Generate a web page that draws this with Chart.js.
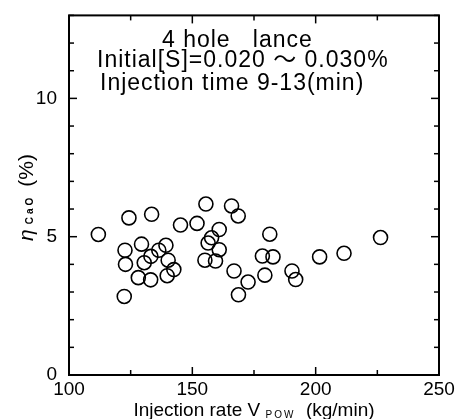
<!DOCTYPE html>
<html>
<head>
<meta charset="utf-8">
<script src="https://cdn.jsdelivr.net/npm/chart.js@4.4.0/dist/chart.umd.min.js"></script>
<style>
  html, body { margin: 0; padding: 0; background: #fff; }
  #wrap { width: 458px; height: 419px; }
</style>
</head>
<body>
<div id="wrap"><canvas id="cadChart" width="458" height="419"></canvas></div>
<script>
// ============================
// DATA
// ============================
// injection rate V_pow (kg/min) and CaO efficiency (%) per heat
const injectionRate = [
  111.9, 124.3, 133.5, 122.7, 122.9, 129.4, 139.3, 136.4, 133.2, 130.5,
  140.2, 142.5, 139.8, 128.1, 133.1, 122.4, 145.2, 151.9, 155.5, 165.9,
  168.6, 160.9, 157.8, 156.4, 160.9, 155.1, 159.4, 181.4, 178.4, 182.7,
  166.9, 179.4, 172.6, 168.7, 190.4, 191.9, 201.6, 211.5, 226.3
];
const etaCaO = [
  5.08, 5.68, 5.81, 4.51, 4.00, 4.73, 4.69, 4.51, 4.29, 4.06,
  4.15, 3.81, 3.59, 3.52, 3.44, 2.84, 5.42, 5.48, 6.18, 6.11,
  5.75, 5.26, 4.96, 4.77, 4.53, 4.15, 4.12, 5.09, 4.30, 4.27,
  3.76, 3.61, 3.36, 2.90, 3.76, 3.45, 4.27, 4.40, 4.97
];
const xTickLabels = [100, 150, 200, 250];
const yTickLabels = [0, 5, 10];
const noteLines = ["4 hole   lance", "Initial[S]=0.020 \u301C 0.030%", "Injection time 9-13(min)"];

const FONT = "'Liberation Sans', Arial, sans-serif";

// ============================
// FRAME, INWARD TICKS, TITLES
// ============================
const frameAndNotes = {
  id: "frameAndNotes",
  afterDraw(chart) {
    const { ctx, chartArea: a, scales: { x, y } } = chart;
    const seg = (x1, y1, x2, y2) => { ctx.beginPath(); ctx.moveTo(x1, y1); ctx.lineTo(x2, y2); ctx.stroke(); };
    ctx.save();
    ctx.strokeStyle = "#000";
    ctx.fillStyle = "#000";

    ctx.lineWidth = 2;
    ctx.strokeRect(a.left, a.top, a.right - a.left, a.bottom - a.top);

    // ticks every 25 kg/min on bottom and top
    ctx.lineWidth = 1.5;
    for (let v = x.min; v <= x.max; v += 25) {
      const px = x.getPixelForValue(v);
      const len = v % 50 === 0 ? 8 : 5;
      seg(px, a.bottom, px, a.bottom - len);
      seg(px, a.top, px, a.top + len);
    }
    // ticks every 1 % on left and right
    for (let v = y.min; v <= y.max; v += 1) {
      const py = y.getPixelForValue(v);
      const len = v % 5 === 0 ? 8 : 5;
      seg(a.left, py, a.left + len, py);
      seg(a.right, py, a.right - len, py);
    }

    // x axis title with subscript
    const big = "19px " + FONT, small = "10px " + FONT;
    const parts = [["Injection rate V ", big, 0], ["POW", small, 2], ["  (kg/min)", big, 0]];
    ctx.textBaseline = "alphabetic";
    ctx.textAlign = "left";
    ctx.letterSpacing = "0px";
    let total = 0;
    parts.forEach(([t, f]) => { ctx.font = f; total += ctx.measureText(t).width + (f === small ? 6 : 0); });
    let cx = (a.left + a.right) / 2 - total / 2;
    parts.forEach(([t, f, dy]) => {
      ctx.font = f;
      if (f === small) ctx.letterSpacing = "2px";
      ctx.fillText(t, cx, 416 + dy);
      cx += ctx.measureText(t).width;
      ctx.letterSpacing = "0px";
    });

    // y axis title, rotated
    ctx.save();
    ctx.translate(33, 241);
    ctx.rotate(-Math.PI / 2);
    ctx.font = "italic 21px " + FONT;
    ctx.fillText("\u03B7", 0, 0);
    let off = ctx.measureText("\u03B7").width + 5;
    ctx.font = "bold 10px " + FONT;
    ctx.letterSpacing = "3px";
    ctx.fillText("CaO", off, 0);
    off += ctx.measureText("CaO").width + 8;
    ctx.letterSpacing = "0px";
    ctx.font = "21px " + FONT;
    ctx.fillText("(%)", off, 0);
    ctx.restore();

    // condition notes
    ctx.font = "23px " + FONT + ", 'Noto Sans CJK JP'";
    ctx.letterSpacing = "1px";
    ctx.fillText(noteLines[0], a.left + 93, a.top + 32);
    ctx.fillText(noteLines[1], a.left + 28, a.top + 52);
    ctx.fillText(noteLines[2], a.left + 31, a.top + 75);
    ctx.restore();
  },
};

// ============================
// SCATTER CHART
// ============================
const cadCtx = document.getElementById("cadChart");
new Chart(cadCtx, {
  type: "scatter",
  data: {
    datasets: [{
      data: injectionRate.map((v, i) => ({ x: v, y: etaCaO[i] })),
      pointRadius: 7,
      pointHoverRadius: 7,
      pointBackgroundColor: "rgba(255,255,255,0)",
      pointBorderColor: "#000",
      pointBorderWidth: 1.6,
    }],
  },
  options: {
    responsive: false,
    animation: false,
    layout: { padding: { left: 0, right: 19, top: 15, bottom: 0 } },
    plugins: { legend: { display: false }, tooltip: { enabled: false } },
    scales: {
      x: {
        type: "linear",
        min: 100,
        max: 250,
        afterBuildTicks: (s) => { s.ticks = xTickLabels.map((v) => ({ value: v })); },
        afterFit: (s) => { s.height = 44; },
        grid: { display: false },
        border: { display: false },
        ticks: { color: "#000", font: { family: FONT, size: 19 }, padding: -5, maxRotation: 0 },
      },
      y: {
        min: 0,
        max: 13,
        afterBuildTicks: (s) => { s.ticks = yTickLabels.map((v) => ({ value: v })); },
        afterFit: (s) => { s.width = 69; },
        grid: { display: false },
        border: { display: false },
        ticks: { color: "#000", font: { family: FONT, size: 19 }, padding: 4 },
      },
    },
  },
  plugins: [frameAndNotes],
});
</script>
</body>
</html>
